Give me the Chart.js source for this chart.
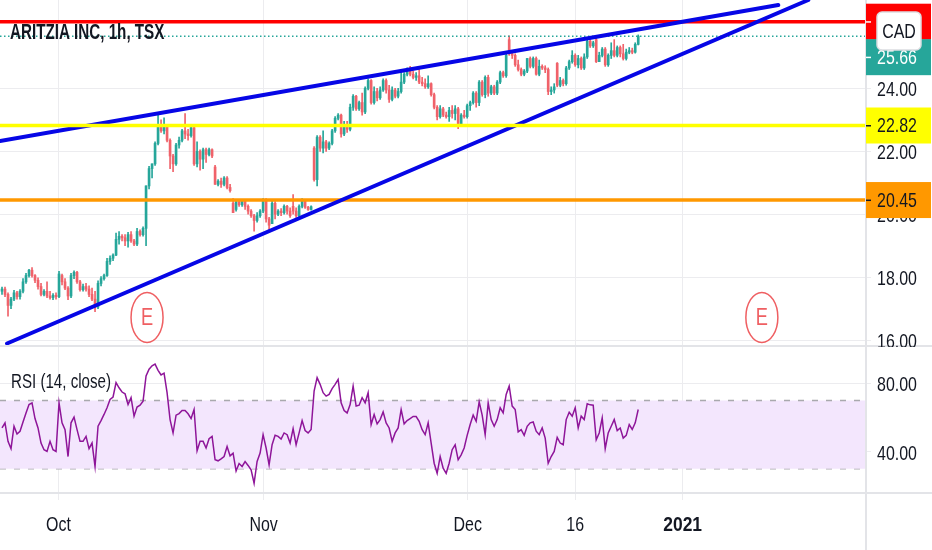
<!DOCTYPE html>
<html>
<head>
<meta charset="utf-8">
<title>ARITZIA INC, 1h, TSX</title>
<script src="https://cdn.jsdelivr.net/npm/chart.js@4"></script>
<style>
    html, body { margin: 0; padding: 0; background: #fff; }
    canvas { display: block; }
</style>
</head>
<body>
<canvas id="chart" width="932" height="550"></canvas>
<script>
// one candle per slot
const opens = [
    17.55,17.62,17.45,17.10,17.30,17.50,17.38,17.55,17.85,18.05,
    18.22,18.05,17.90,17.70,17.45,17.55,17.40,17.35,17.42,17.38,
    18.05,17.85,17.65,17.40,18.05,18.15,17.85,17.60,17.70,17.62,
    17.45,17.30,17.05,17.80,17.95,18.05,18.50,18.60,18.70,19.20,
    19.30,19.25,19.15,19.35,19.15,19.05,19.45,19.35,19.55,20.90,
    21.45,21.60,22.25,22.85,22.65,22.80,22.35,21.85,21.60,22.20,
    22.35,22.65,22.55,22.50,22.75,21.60,22.00,21.75,22.05,21.90,
    22.05,21.50,20.95,21.05,20.95,21.15,20.85,20.35,20.15,20.40,
    20.30,20.42,20.25,20.10,19.95,19.80,19.95,20.10,20.45,19.85,
    19.70,20.35,20.00,20.10,20.05,20.25,20.10,20.25,20.10,19.95,
    20.25,20.42,20.22,20.15,22.10,21.10,22.45,22.10,22.30,22.10,
    22.25,22.65,23.05,23.15,22.55,22.85,22.70,23.40,23.75,23.35,
    23.55,23.25,24.00,24.25,23.55,23.90,23.70,23.95,24.25,23.95,
    23.65,23.95,23.75,23.90,24.20,24.45,24.60,24.45,24.35,24.40,
    24.20,24.15,24.05,24.15,23.80,23.40,23.10,23.35,23.15,23.10,
    23.30,23.20,23.35,22.85,23.15,23.10,23.45,23.55,23.85,23.55,
    24.20,23.80,24.35,23.85,24.05,23.85,24.20,24.50,24.40,25.55,
    25.10,25.05,24.75,24.60,24.45,24.55,24.95,24.70,24.95,24.45,
    24.70,24.65,24.60,23.90,23.95,24.80,24.10,24.25,24.15,24.65,
    24.85,25.05,24.75,24.95,24.65,25.00,25.50,25.35,25.55,24.85,
    25.05,25.25,24.75,25.05,25.20,25.05,25.30,25.10,24.95,25.15,
    25.20,25.15,25.40
];
const closes = [
    17.62,17.45,17.10,17.30,17.50,17.38,17.55,17.85,18.05,18.22,
    18.05,17.90,17.70,17.45,17.55,17.40,17.35,17.42,17.38,18.10,
    17.85,17.65,17.40,18.05,18.15,17.85,17.60,17.70,17.62,17.45,
    17.30,17.05,17.80,17.95,18.05,18.50,18.60,18.70,19.20,19.30,
    19.25,19.15,19.35,19.15,19.05,19.45,19.35,19.55,20.90,21.45,
    21.60,22.25,22.85,22.65,22.80,22.35,21.85,21.60,22.20,22.35,
    22.65,22.55,22.50,22.75,21.60,22.00,21.75,22.05,21.90,22.05,
    21.85,20.95,21.05,20.95,21.15,20.85,20.75,20.05,20.40,20.30,
    20.42,20.25,20.10,19.95,19.80,19.95,20.10,20.45,19.85,19.65,
    20.35,20.00,20.10,20.05,20.25,20.10,19.95,20.10,19.95,20.25,
    20.42,20.22,20.15,20.24,21.10,22.45,22.10,22.30,22.10,22.25,
    22.65,23.05,23.15,22.55,22.85,22.70,23.40,23.75,23.35,23.55,
    23.25,24.00,24.25,23.55,23.90,23.70,23.95,24.25,23.95,23.65,
    23.95,23.75,23.90,24.20,24.45,24.60,24.45,24.35,24.40,24.20,
    24.15,24.05,24.15,23.80,23.40,23.10,23.35,23.15,23.10,23.30,
    23.20,23.35,22.85,23.15,23.10,23.45,23.55,23.85,23.55,24.20,
    23.80,24.35,23.85,24.05,23.85,24.20,24.50,24.40,25.05,25.10,
    25.05,24.75,24.60,24.45,24.55,24.95,24.70,24.95,24.45,24.70,
    24.65,24.60,23.90,23.95,24.05,24.10,24.25,24.15,24.65,24.85,
    25.05,24.75,24.95,24.65,25.00,25.50,25.35,25.45,24.85,25.05,
    25.25,24.75,25.05,25.20,25.05,25.30,25.10,24.95,25.15,25.20,
    25.15,25.40,25.66
];
const highs = [
    17.68,17.68,17.50,17.36,17.58,17.55,17.60,17.95,18.12,18.25,
    18.30,18.08,17.98,17.80,17.60,17.85,17.55,17.48,17.50,18.18,
    18.10,17.95,17.70,18.12,18.20,18.18,17.90,17.78,17.80,17.72,
    17.65,17.55,17.88,18.02,18.10,18.60,18.68,18.74,19.40,19.45,
    19.35,19.35,19.42,19.45,19.20,19.55,19.50,19.60,20.90,21.52,
    21.60,22.30,23.15,23.00,23.06,22.85,22.40,21.90,22.25,22.45,
    22.70,23.20,22.70,22.80,22.80,22.30,22.05,22.10,22.10,22.10,
    22.08,21.55,21.10,21.15,21.20,21.20,20.95,20.50,20.45,20.46,
    20.45,20.45,20.30,20.15,20.00,20.05,20.15,20.50,20.50,19.90,
    20.42,20.40,20.15,20.18,20.30,20.28,20.20,20.62,20.20,20.30,
    20.50,20.45,20.25,20.27,22.15,22.50,22.50,22.65,22.35,22.30,
    22.70,23.10,23.20,23.18,22.95,22.95,23.50,23.80,23.78,23.60,
    23.85,24.05,24.30,24.28,24.05,24.00,24.05,24.30,24.30,24.10,
    24.05,24.00,24.00,24.50,24.50,24.65,24.70,24.55,24.50,24.60,
    24.35,24.30,24.40,24.18,23.85,23.45,23.45,23.40,23.25,23.40,
    23.45,23.45,23.40,23.20,23.30,23.50,23.60,23.90,23.90,24.25,
    24.25,24.40,24.42,24.10,24.10,24.25,24.55,24.55,25.10,25.67,
    25.15,25.10,24.90,24.65,24.60,24.95,25.00,25.00,25.00,24.90,
    24.75,24.72,24.65,24.05,24.15,24.82,24.35,24.30,24.70,24.90,
    25.20,25.10,25.05,25.00,25.10,25.55,25.55,25.50,25.65,25.15,
    25.30,25.30,25.10,25.45,25.55,25.35,25.35,25.40,25.25,25.30,
    25.28,25.45,25.70
];
const lows = [
    17.45,17.38,16.76,17.00,17.25,17.30,17.30,17.50,17.80,18.00,
    18.00,17.82,17.62,17.40,17.40,17.35,17.30,17.28,17.30,17.35,
    17.75,17.60,17.28,17.35,17.95,17.80,17.55,17.55,17.55,17.38,
    17.25,16.90,17.00,17.72,17.90,18.02,18.40,18.52,18.68,19.05,
    19.15,19.00,18.95,19.10,19.00,19.00,19.30,19.30,19.00,20.80,
    21.15,21.55,22.20,22.60,22.55,22.30,21.45,21.35,21.55,22.10,
    22.30,22.40,22.35,22.45,21.55,21.50,21.40,21.45,21.65,21.85,
    21.80,20.95,20.90,20.85,20.90,20.80,20.70,20.05,20.10,20.25,
    20.25,20.15,20.00,19.90,19.46,19.75,19.90,20.05,19.75,19.50,
    19.70,19.85,19.95,19.95,20.00,20.00,19.90,20.00,19.90,19.92,
    20.20,20.18,20.12,20.13,21.05,20.90,22.00,21.95,22.00,22.05,
    22.20,22.60,23.00,22.45,22.50,22.60,22.65,23.30,23.30,23.30,
    23.15,23.20,23.95,23.50,23.50,23.60,23.65,23.90,23.85,23.55,
    23.60,23.70,23.70,23.85,24.15,24.40,24.40,24.30,24.25,24.15,
    24.08,24.00,24.00,23.75,23.35,23.00,23.05,23.10,23.05,22.95,
    23.05,23.00,22.72,22.85,23.05,23.05,23.30,23.50,23.40,23.45,
    23.75,23.70,23.75,23.80,23.80,23.80,24.15,24.35,24.35,25.05,
    24.95,24.70,24.55,24.40,24.40,24.50,24.65,24.65,24.42,24.40,
    24.60,24.50,23.80,23.80,23.85,24.05,24.05,24.08,24.10,24.60,
    24.80,24.70,24.65,24.60,24.60,24.95,25.30,25.30,24.82,24.85,
    25.00,24.70,24.70,24.95,25.00,25.00,25.00,24.90,24.90,25.10,
    25.10,25.12,25.38
];
const rsiValues = [
    53.9,56.9,46.1,41.8,54.9,50.4,52.0,57.4,62.7,67.6,
    68.6,59.4,53.9,45.1,41.2,40.2,46.1,41.2,40.2,68.6,
    56.9,52.9,37.2,56.9,60.2,52.9,46.1,46.1,49.0,41.8,
    45.1,31.4,54.9,58.2,61.8,65.7,70.6,72.0,80.4,77.4,
    74.9,73.9,67.6,71.6,60.8,66.1,67.2,69.6,84.3,88.2,
    90.2,91.2,87.6,84.9,85.9,74.5,58.8,51.0,61.4,62.3,
    64.1,64.1,62.2,59.4,64.7,40.6,46.1,46.1,42.2,47.6,
    49.0,35.3,34.7,35.9,37.2,43.1,37.6,39.2,28.8,33.1,
    31.4,34.3,32.0,29.4,21.6,34.3,39.2,50.0,42.2,32.4,
    44.1,49.6,49.0,47.4,51.0,50.0,45.1,53.5,44.1,51.0,
    58.2,52.4,51.0,53.0,75.5,83.3,79.4,74.5,72.5,73.5,
    76.9,79.4,82.3,68.6,64.1,62.7,67.6,78.4,66.7,67.2,
    71.6,68.6,74.5,55.9,61.8,56.3,58.8,63.3,56.9,53.9,
    46.1,51.0,53.9,64.7,56.3,58.2,59.4,60.6,60.6,57.8,
    52.9,50.0,56.9,45.1,33.3,27.4,37.2,30.4,27.4,33.3,
    41.2,44.1,35.3,38.2,42.2,49.6,55.9,61.4,57.8,69.2,
    61.4,50.0,68.6,58.8,54.9,58.8,65.7,62.7,73.5,78.4,
    66.7,64.7,51.6,52.9,49.6,54.9,56.9,57.4,52.0,50.0,
    53.9,48.0,33.3,37.2,40.2,48.4,45.1,44.1,58.8,63.1,
    60.8,65.7,53.9,60.8,58.8,68.0,67.4,67.2,47.0,51.0,
    59.8,41.8,51.0,54.9,58.8,52.4,53.9,48.0,49.6,55.9,
    53.0,56.9,64.7
];

// axes
const xRange = [-0.67, 287.9];
const xTickValues = [18.83, 87.17, 155.2, 191, 226.8];
const xTickLabels = ['Oct', 'Nov', 'Dec', '16', '2021'];
const priceRange = [15.81, 26.81];
const priceTicks = [16, 18, 20, 22, 24];
const rsiRange = [15.9, 101.8];
const rsiTicks = [40, 80];

// drawn levels and trend lines
const redLevel = 26.12;
const lastPrice = 25.66;
const yellowLevel = 22.82;
const orangeLevel = 20.45;
const rsiUpper = 70;
const rsiLower = 30;
const upperTrendX = [-0.67, 258.67];
const upperTrendY = [22.33, 26.65];
const lowerTrendX = [1.67, 268.67];
const lowerTrendY = [15.89, 26.81];
const earningsX = [48.33, 253.2];
const earningsY = 16.72;

const UP = '#26a69a';
const DOWN = '#f0626a';
const SANS = '"Liberation Sans", sans-serif';
const INK = '#131722';
const GRID = '#ececef';

const candleColors = closes.map((c, i) => (c >= opens[i] ? UP : DOWN));

function level(value, color, width, dash, order) {
    return {
        type: 'line',
        yAxisID: 'y',
        data: xRange.map(x => ({ x: x, y: value })),
        borderColor: color,
        borderWidth: width,
        borderDash: dash || [],
        pointRadius: 0,
        order: order
    };
}

function trend(xs, ys) {
    return {
        type: 'line',
        yAxisID: 'y',
        data: xs.map((x, i) => ({ x: x, y: ys[i] })),
        borderColor: '#0606e6',
        borderWidth: 4,
        borderCapStyle: 'round',
        pointRadius: 0,
        order: 3
    };
}

function rsiBand(value, fillIt) {
    return {
        type: 'line',
        yAxisID: 'yRsi',
        data: xRange.map(x => ({ x: x, y: value })),
        borderColor: '#a9a9ad',
        borderWidth: 1.5,
        borderDash: [6, 8],
        pointRadius: 0,
        backgroundColor: '#f3e6fd',
        fill: fillIt ? { target: { value: rsiLower } } : false,
        order: 9
    };
}

// the picture's type is narrow and none of the fonts here is, so squeeze it
function squeezed(ctx, text, x, y, opts) {
    ctx.save();
    ctx.translate(x, y);
    ctx.scale(opts.squeeze || 0.76, 1);
    ctx.font = (opts.weight || 'normal') + ' ' + (opts.size || 21) + 'px ' + SANS;
    ctx.fillStyle = opts.color || INK;
    ctx.textAlign = opts.align || 'left';
    ctx.textBaseline = 'middle';
    ctx.fillText(text, 0, 0);
    ctx.restore();
}

// tick labels, price tags, pane frames, titles and earnings marks
const overlays = {
    id: 'overlays',
    afterDatasetsDraw(chart) {
        const { ctx, scales } = chart;
        const right = chart.chartArea.right;
        const paneBottom = scales.y.bottom;
        const bottom = chart.chartArea.bottom;
        const LABEL_X = 877;

        ctx.save();
        // earnings marks
        earningsX.forEach(v => {
            const cx = scales.x.getPixelForValue(v);
            const cy = scales.y.getPixelForValue(earningsY);
            ctx.beginPath();
            ctx.ellipse(cx, cy, 16, 25, 0, 0, Math.PI * 2);
            ctx.fillStyle = '#fff';
            ctx.fill();
            ctx.lineWidth = 1.5;
            ctx.strokeStyle = '#ef5f62';
            ctx.stroke();
            squeezed(ctx, 'E', cx, cy + 1, { size: 24, align: 'center', color: '#ef5f62' });
        });

        // pane frames
        ctx.strokeStyle = '#e3e4e8';
        ctx.lineWidth = 2;
        ctx.beginPath();
        ctx.moveTo(0, paneBottom); ctx.lineTo(932, paneBottom);
        ctx.moveTo(0, bottom); ctx.lineTo(932, bottom);
        ctx.moveTo(right, 0); ctx.lineTo(right, 550);
        ctx.stroke();

        // axis labels, placed by the scales
        scales.x.ticks.forEach(t => {
            const bold = t.label === '2021';
            squeezed(ctx, t.label, scales.x.getPixelForValue(t.value), 525, {
                align: 'center',
                weight: bold ? 'bold' : 'normal',
                squeeze: bold ? 0.83 : 0.76
            });
        });
        [scales.y, scales.yRsi].forEach(s => {
            s.ticks.forEach(t => {
                squeezed(ctx, t.label, LABEL_X, s.getPixelForValue(t.value) + 2, {});
            });
        });

        // the 16.00 label stops at the pane edge
        ctx.fillStyle = '#fff';
        ctx.fillRect(right + 1, paneBottom + 1, 66, 8);

        // titles
        squeezed(ctx, 'ARITZIA INC, 1h, TSX', 10, 33, { size: 22, weight: 'bold', squeeze: 0.69 });
        squeezed(ctx, 'RSI (14, close)', 11, 382, { squeeze: 0.72 });

        // price tags
        const tag = (color, textColor, label, tagY) => {
            ctx.fillStyle = color;
            ctx.fillRect(right, tagY - 18, 932 - right - 1, 36);
            ctx.fillStyle = textColor;
            ctx.fillRect(right, tagY - 0.5, 5, 1.5);
            if (label) {
                squeezed(ctx, label, LABEL_X, tagY + 1, { color: textColor });
            }
        };
        const yOf = v => scales.y.getPixelForValue(v);
        tag('#ff0000', '#fff', '', yOf(redLevel));
        tag(UP, '#fff', lastPrice.toFixed(2), yOf(lastPrice) + 21);
        tag('#ffff00', INK, yellowLevel.toFixed(2), yOf(yellowLevel));
        tag('#ff9800', INK, orangeLevel.toFixed(2), yOf(orangeLevel));

        // currency button
        ctx.beginPath();
        ctx.roundRect(877, 12, 44, 38, 5);
        ctx.fillStyle = '#fff';
        ctx.fill();
        ctx.lineWidth = 1.5;
        ctx.strokeStyle = '#dcdde1';
        ctx.stroke();
        squeezed(ctx, 'CAD', 899, 32, { align: 'center' });
        ctx.restore();
    }
};

new Chart(document.getElementById('chart'), {
    type: 'bar',
    data: {
        datasets: [
            {
                // wicks
                data: closes.map((c, i) => ({ x: i, y: [lows[i], highs[i]] })),
                yAxisID: 'y',
                backgroundColor: candleColors,
                barThickness: 1,
                grouped: false,
                order: 7
            },
            {
                // bodies
                data: closes.map((c, i) => ({ x: i, y: [opens[i], c] })),
                yAxisID: 'y',
                backgroundColor: candleColors,
                barThickness: 2,
                grouped: false,
                order: 6
            },
            level(orangeLevel, '#ff9800', 3.5, null, 5),
            level(lastPrice, UP, 1.5, [1.5, 2.5], 5),
            level(redLevel, '#ff0000', 3.5, null, 4),
            trend(upperTrendX, upperTrendY),
            trend(lowerTrendX, lowerTrendY),
            level(yellowLevel, '#ffff00', 3.5, null, 2),
            rsiBand(rsiUpper, true),
            rsiBand(rsiLower, false),
            {
                type: 'line',
                yAxisID: 'yRsi',
                data: rsiValues.map((v, i) => ({ x: i, y: v })),
                borderColor: '#8e1599',
                borderWidth: 1.5,
                pointRadius: 0,
                order: 1
            }
        ]
    },
    options: {
        responsive: false,
        animation: false,
        devicePixelRatio: 1,
        layout: { padding: 0 },
        plugins: { legend: { display: false }, tooltip: { enabled: false } },
        scales: {
            x: {
                type: 'linear',
                min: xRange[0],
                max: xRange[1],
                offset: false,
                afterBuildTicks: s => { s.ticks = xTickValues.map(v => ({ value: v })); },
                afterFit: s => { s.height = 57; },
                grid: { color: GRID, offset: false, tickLength: 7 },
                border: { display: false },
                ticks: {
                    display: false,
                    autoSkip: false,
                    callback: (value, index) => xTickLabels[index]
                }
            },
            y: {
                type: 'linear',
                position: 'right',
                stack: 'panes',
                stackWeight: 346,
                min: priceRange[0],
                max: priceRange[1],
                afterBuildTicks: s => { s.ticks = priceTicks.map(v => ({ value: v })); },
                afterFit: s => { s.width = 66; },
                grid: { color: GRID, tickLength: 5 },
                border: { display: false },
                ticks: { display: false, autoSkip: false, callback: v => v.toFixed(2) }
            },
            yRsi: {
                type: 'linear',
                position: 'right',
                stack: 'panes',
                stackWeight: 147,
                min: rsiRange[0],
                max: rsiRange[1],
                afterBuildTicks: s => { s.ticks = rsiTicks.map(v => ({ value: v })); },
                afterFit: s => { s.width = 66; },
                grid: { color: GRID, tickLength: 5 },
                border: { display: false },
                ticks: { display: false, autoSkip: false, callback: v => v.toFixed(2) }
            }
        }
    },
    plugins: [overlays]
});
</script>
</body>
</html>
